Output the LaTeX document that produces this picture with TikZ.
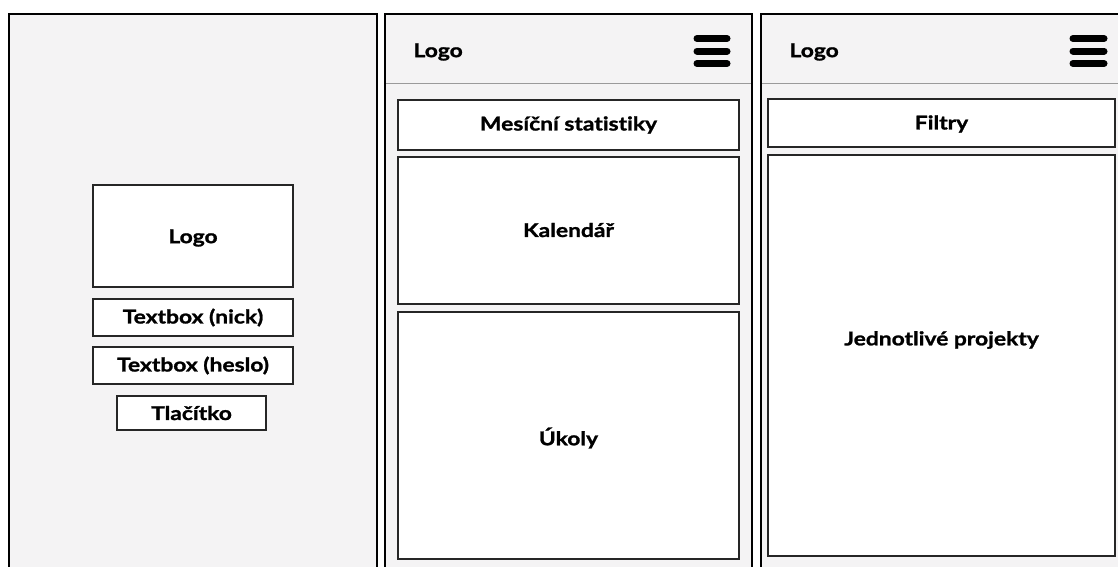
\documentclass[tikz,border=0pt]{standalone}
\usepackage{fontspec}
\setmainfont{Lato}[FakeStretch=1.2,Ligatures=NoCommon,BoldFeatures={FakeBold=1.3}]
\definecolor{panelgray}{HTML}{F4F3F4}
\definecolor{rulegray}{HTML}{9A9A9A}
\begin{document}
\begin{tikzpicture}[x=1pt,y=-1pt,
  panel/.style={draw=black,line width=2pt,fill=panelgray},
  box/.style={draw=black!85,line width=1.3pt,fill=white},
  label/.style={font=\fontsize{19}{21}\selectfont\bfseries,text=black},
  burger/.style={line width=7pt,line cap=round,black}]
\useasboundingbox (0,0) rectangle (1118,566);
\begin{scope}
\clip (0,0) rectangle (1118,566);
% three screens
\draw[panel] (9,14) rectangle (377,600);
\draw[panel] (385,14) rectangle (752,600);
\draw[panel] (761,14) rectangle (1140,600);
% header separators
\draw[rulegray,line width=1.5pt] (386,83.5) -- (751,83.5);
\draw[rulegray,line width=1.5pt] (762,83.5) -- (1140,83.5);
\end{scope}

% login screen
\draw[box] (93,185) rectangle (293,287);
\node[label] (loginlogo) at (193,238) {Logo};
\draw[box] (93,299) rectangle (293,336);
\node[label] (nick) at (193,317.5) {Textbox (nick)};
\draw[box] (93,347) rectangle (293,384);
\node[label] (heslo) at (193,365.5) {Textbox (heslo)};
\draw[box] (117,396) rectangle (266,430);
\node[label] (btn) at (191.5,413) {Tlačítko};

% dashboard screen
\node[label,anchor=west] (logoB) at (410,52) {Logo};
\draw[burger] (697,38.5) -- (727,38.5);
\draw[burger] (697,51) -- (727,51);
\draw[burger] (697,63.5) -- (727,63.5);
\draw[box] (398,100) rectangle (739,150);
\node[label] (stat) at (568.5,125) {Mesíční statistiky};
\draw[box] (398,157) rectangle (739,304);
\node[label] (kal) at (568.5,230) {Kalendář};
\draw[box] (398,312) rectangle (739,559);
\node[label] (ukoly) at (568.5,438) {Úkoly};

% projects screen
\node[label,anchor=west] (logoC) at (786,52) {Logo};
\draw[burger] (1073,38.5) -- (1104,38.5);
\draw[burger] (1073,51) -- (1104,51);
\draw[burger] (1073,63.5) -- (1104,63.5);
\draw[box] (768,99) rectangle (1115,147);
\node[label] (filtry) at (941.5,124) {Filtry};
\draw[box] (768,155) rectangle (1115,556);
\node[label] (proj) at (941.5,340) {Jednotlivé projekty};
\end{tikzpicture}
\end{document}
